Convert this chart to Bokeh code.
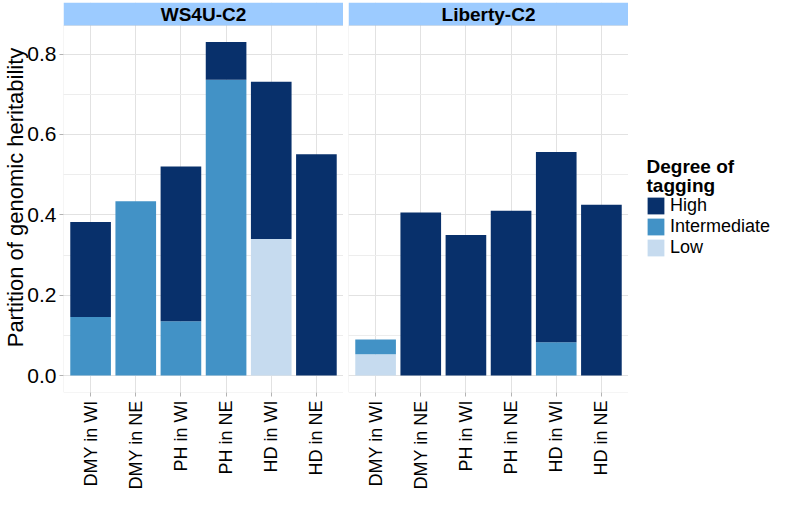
import math
from bokeh.plotting import figure
from bokeh.layouts import row
from bokeh.models import (FactorRange, Range1d, FixedTicker, PrintfTickFormatter,
                          BoxAnnotation, Label, Legend, LegendItem)
from bokeh.embed import file_html
from bokeh.resources import INLINE

# ---------------- data ----------------
categories = ["DMY in WI", "DMY in NE", "PH in WI", "PH in NE", "HD in WI", "HD in NE"]
levels = ["Low", "Intermediate", "High"]  # stacking order, bottom to top
legend_order = ["High", "Intermediate", "Low"]
panel_names = ["WS4U-C2", "Liberty-C2"]

ws4u_low = [0.0, 0.0, 0.0, 0.0, 0.340, 0.0]
ws4u_intermediate = [0.146, 0.434, 0.135, 0.736, 0.0, 0.0]
ws4u_high = [0.236, 0.0, 0.385, 0.094, 0.391, 0.551]

liberty_low = [0.053, 0.0, 0.0, 0.0, 0.0, 0.0]
liberty_intermediate = [0.037, 0.0, 0.0, 0.0, 0.083, 0.0]
liberty_high = [0.0, 0.406, 0.350, 0.410, 0.473, 0.425]

y_ticks = [0.0, 0.2, 0.4, 0.6, 0.8]
y_minor = [0.1, 0.3, 0.5, 0.7]

colors = {"High": "#08306B", "Intermediate": "#4292C6", "Low": "#C6DBEF"}

# ---------------- layout constants ----------------
FONT = "Liberation Sans"
FW = 280          # frame width of each panel
FH = 390          # frame height (strip + panel)
TOP = 2
BOTTOM = 97
LEFT = 62
GAP = 5
TOTAL_W = 773
TOTAL_H = TOP + FH + BOTTOM
LEG_W = TOTAL_W - (LEFT + FW) - (GAP + FW)
STRIP_PX = 23
Y0, Y1 = -0.042, 0.871
units_per_px = (Y1 - Y0) / (FH - STRIP_PX)
Y_TOP = Y1 + STRIP_PX * units_per_px


def make_panel(name, low, inter, high, first):
    p = figure(x_range=FactorRange(*categories, range_padding=0.1, range_padding_units="absolute"),
               y_range=Range1d(Y0, Y_TOP),
               frame_width=FW, frame_height=FH,
               min_border_top=TOP, min_border_bottom=BOTTOM,
               min_border_left=LEFT if first else GAP,
               min_border_right=0,
               output_backend="svg", toolbar_location=None)
    p.outline_line_color = None
    p.background_fill_color = "white"

    src = dict(cat=categories, Low=low, Intermediate=inter, High=high)
    p.vbar_stack(levels, x="cat", width=0.9, source=src,
                 color=[colors[l] for l in levels], line_color=None)

    # grid
    p.ygrid.ticker = FixedTicker(ticks=y_ticks, minor_ticks=y_minor)
    p.ygrid.grid_line_color = "#E2E2E2"
    p.ygrid.minor_grid_line_color = "#EDEDED"
    p.xgrid.grid_line_color = "#E2E2E2"

    # axes
    p.yaxis.ticker = FixedTicker(ticks=y_ticks)
    p.yaxis.formatter = PrintfTickFormatter(format="%.1f")
    for ax in (p.xaxis[0], p.yaxis[0]):
        ax.axis_line_color = None
        ax.major_tick_line_color = "#B3B3B3"
        ax.major_tick_out = 4
        ax.major_tick_in = 0
        ax.minor_tick_line_color = None
        ax.major_label_text_font = FONT
        ax.major_label_text_color = "black"
    p.xaxis.major_label_text_font_size = "18px"
    p.xaxis.major_label_standoff = 4
    p.xaxis.major_label_orientation = math.pi / 2
    p.yaxis.major_label_text_font_size = "21px"
    p.yaxis.major_label_standoff = 3
    if first:
        p.yaxis.axis_label = "Partition of genomic heritability"
        p.yaxis.axis_label_text_font = FONT
        p.yaxis.axis_label_text_font_size = "22px"
        p.yaxis.axis_label_text_font_style = "normal"
        p.yaxis.axis_label_text_color = "black"
        p.yaxis.axis_label_standoff = -4
    else:
        p.yaxis.visible = False

    # facet strip
    p.add_layout(BoxAnnotation(bottom=Y1, top=Y_TOP, fill_color="#9CCBFF", fill_alpha=1.0,
                               line_color=None))
    p.add_layout(Label(x=FW / 2, y=FH - STRIP_PX / 2, x_units="screen", y_units="screen",
                       text=name, text_font=FONT, text_font_size="19px", text_font_style="bold",
                       text_align="center", text_baseline="middle", text_color="black"))
    # panel border
    p.add_layout(BoxAnnotation(top=Y1, bottom=Y0, fill_alpha=0.0, line_color="#BDBDBD",
                               line_width=1))
    return p


p1 = make_panel(panel_names[0], ws4u_low, ws4u_intermediate, ws4u_high, True)
p2 = make_panel(panel_names[1], liberty_low, liberty_intermediate, liberty_high, False)

# legend panel (its dummy renderers sit outside the visible range; they only supply swatches)
p3 = figure(frame_width=LEG_W, frame_height=TOTAL_H, x_range=Range1d(0, 1), y_range=Range1d(0, 1),
            min_border_left=0, min_border_right=0, min_border_top=0, min_border_bottom=0,
            output_backend="svg", toolbar_location=None)
p3.axis.visible = False
p3.grid.visible = False
p3.outline_line_color = None
items = []
for lvl in legend_order:
    r = p3.vbar(x=[-5], top=[-5], bottom=[-6], width=0.5, color=colors[lvl], line_color=None)
    items.append(LegendItem(label=lvl, renderers=[r]))
legend = Legend(items=items, location=(17, 231), orientation="vertical",
                glyph_width=21, glyph_height=21, label_height=21, label_width=10,
                spacing=0, padding=0, margin=0, label_standoff=4,
                border_line_color=None, background_fill_alpha=0.0,
                label_text_font=FONT, label_text_font_size="18px", label_text_color="black")
p3.add_layout(legend)
for txt, yy in (("Degree of", 325), ("tagging", 306)):
    p3.add_layout(Label(x=18, y=yy, x_units="screen", y_units="screen", text=txt,
                        text_font=FONT, text_font_size="19px", text_font_style="bold",
                        text_baseline="alphabetic", text_align="left", text_color="black"))

layout = row(p1, p2, p3)
open("out.html", "w").write(file_html(layout, INLINE))
